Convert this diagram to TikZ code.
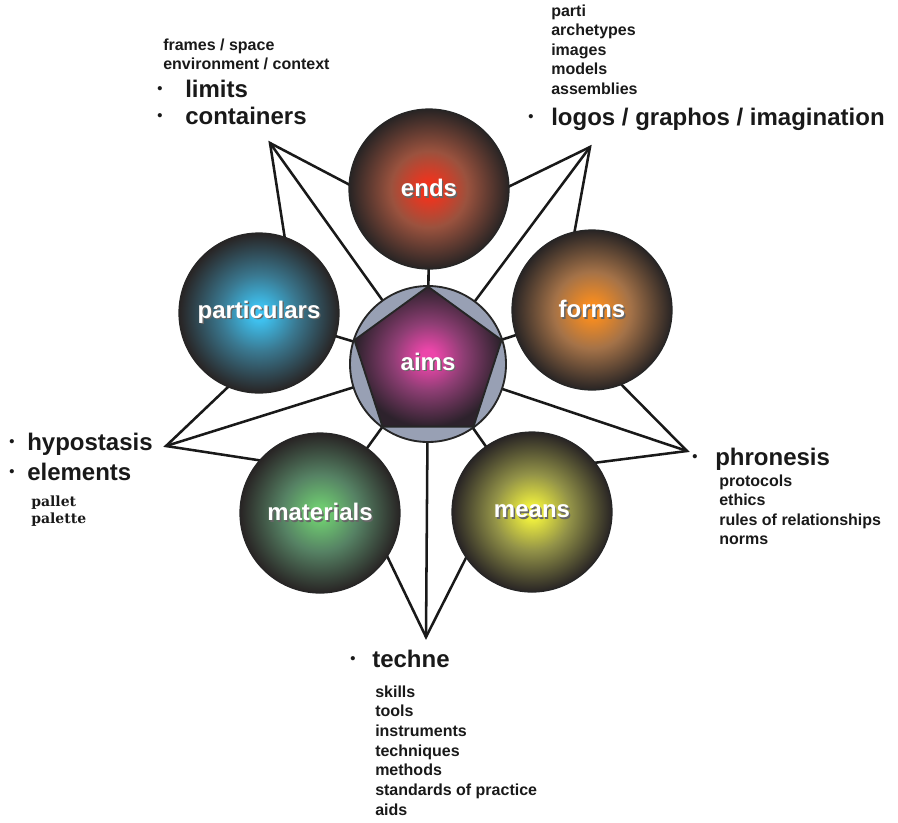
\documentclass[tikz,border=0pt]{standalone}
\usepackage{fontspec}
\setmainfont{Liberation Sans}
\newfontfamily\palfont{DejaVu Serif}
\usetikzlibrary{shapes.geometric,backgrounds}

% ball colours: centre glow, half-radius tone, rim
\definecolor{rimD}{RGB}{40,36,36}
\definecolor{endsC}{RGB}{238,52,30}
\definecolor{endsM}{RGB}{154,82,62}
\definecolor{formsC}{RGB}{246,140,32}
\definecolor{formsM}{RGB}{164,114,72}
\definecolor{partC}{RGB}{62,192,238}
\definecolor{partM}{RGB}{58,120,144}
\definecolor{matC}{RGB}{110,200,112}
\definecolor{matM}{RGB}{86,130,100}
\definecolor{meansC}{RGB}{236,236,62}
\definecolor{meansM}{RGB}{146,146,72}
\definecolor{aimsC}{RGB}{236,70,170}
\definecolor{aimsM}{RGB}{142,62,116}
\definecolor{aimsD}{RGB}{45,34,44}
\definecolor{ringgray}{RGB}{152,160,180}

% radius of a shaded circle corresponds to 25bp
\pgfdeclareradialshading{endsball}{\pgfpointorigin}{color(0bp)=(endsC); color(2.5bp)=(endsC); color(12bp)=(endsM); color(25bp)=(rimD); color(100bp)=(rimD)}
\pgfdeclareradialshading{formsball}{\pgfpointorigin}{color(0bp)=(formsC); color(2.5bp)=(formsC); color(12bp)=(formsM); color(25bp)=(rimD); color(100bp)=(rimD)}
\pgfdeclareradialshading{partball}{\pgfpointorigin}{color(0bp)=(partC); color(2.5bp)=(partC); color(12bp)=(partM); color(25bp)=(rimD); color(100bp)=(rimD)}
\pgfdeclareradialshading{matball}{\pgfpointorigin}{color(0bp)=(matC); color(2.5bp)=(matC); color(12bp)=(matM); color(25bp)=(rimD); color(100bp)=(rimD)}
\pgfdeclareradialshading{meansball}{\pgfpointorigin}{color(0bp)=(meansC); color(2.5bp)=(meansC); color(12bp)=(meansM); color(25bp)=(rimD); color(100bp)=(rimD)}
\pgfdeclareradialshading{aimsglow}{\pgfpointorigin}{color(0bp)=(aimsC); color(2.5bp)=(aimsC); color(12bp)=(aimsM); color(25bp)=(aimsD); color(100bp)=(aimsD)}

% white label with a soft grey drop shadow
\newcommand\embossed[1]{\leavevmode\rlap{\hspace{1.1pt}\raisebox{-1.1pt}{\textcolor{black!60}{#1}}}\textcolor{white}{#1}}
% small bullet set in a box of given width, followed by the item
\newcommand\bul[2]{\makebox[#1][l]{\raisebox{2.8pt}{\fontsize{11}{11}\selectfont\textbullet}}#2}

\begin{document}
\begin{tikzpicture}[x=0.75pt,y=-0.75pt,
  wire/.style={line width=1.9pt, draw=black!90, line join=miter},
  ball/.style={circle, minimum size=120pt, inner sep=0pt, draw=black!85, line width=0.9pt, shade,
    font=\fontsize{18}{20}\selectfont\bfseries},
  small/.style={anchor=base west, inner sep=0pt, font=\fontsize{12}{14}\selectfont\bfseries, text=black!90},
  big/.style={anchor=base west, inner sep=0pt, font=\fontsize{18}{20}\selectfont\bfseries, text=black!90},
  serif/.style={anchor=base west, inner sep=0pt, font=\fontsize{10.5}{12}\selectfont\palfont\bfseries, text=black!90}]

\useasboundingbox (0,0) rectangle (898,822);

% star tips (outer points) and inner corners of the star outline
\coordinate (tipTL) at (270,143);
\coordinate (tipTR) at (590,147);
\coordinate (tipL)  at (166,446);
\coordinate (tipR)  at (687,451);
\coordinate (tipB)  at (426,637);
\coordinate (inN)  at (428,226);
\coordinate (inE)  at (558.3,320.7);
\coordinate (inW)  at (297.7,320.7);
\coordinate (inSW) at (347.5,473.8);
\coordinate (inSE) at (508.5,473.8);

% centre: aims
\node[circle, minimum size=117pt, inner sep=0pt, fill=ringgray, draw=black!85, line width=1.4pt] (aimsring) at (428,364) {};
\node[regular polygon, regular polygon sides=5, minimum size=116pt, inner sep=0pt,
      draw=black!85, line width=1.4pt, shade, shading=aimsglow,
      font=\fontsize{18}{20}\selectfont\bfseries] (aims) at (428,364) {\raisebox{4pt}{\embossed{aims}}};

% the five balls
\node[ball, shading=endsball]  (ends)        at (429,189) {\embossed{ends}};
\node[ball, shading=formsball] (forms)       at (592,310) {\embossed{forms}};
\node[ball, shading=partball]  (particulars) at (259,313) {\embossed{particulars}};
\node[ball, shading=matball]   (materials)   at (320,513) {\embossed{materials}};
\node[ball, shading=meansball] (means)       at (532,512) {\embossed{means}};

\begin{pgfonlayer}{background}
  % star outline
  \draw[wire] (tipTL) -- (inN) -- (tipTR) -- (inE) -- (tipR) -- (inSE) -- (tipB)
              -- (inSW) -- (tipL) -- (inW) -- cycle;
  % spokes from the star tips into the centre
  \foreach \t in {tipTL,tipTR,tipL,tipR,tipB}
    \draw[wire] (\t) -- (aims.center);
  % links from the centre to each ball
  \foreach \b in {ends,forms,particulars,materials,means}
    \draw[wire] (aims.center) -- (\b.center);
\end{pgfonlayer}

% top left: limits / containers
\node[small] (tl1) at (163,50) {frames / space};
\node[small] (tl2) at (163,69) {environment / context};
\node[big] (limits) at (157,97) {\bul{21pt}{limits}};
\node[big] (containers) at (157,124) {\bul{21pt}{containers}};

% top right: logos / graphos / imagination
\foreach \t [count=\i] in {{parti},{archetypes},{images},{models},{assemblies}}
  \node[small] (tr\i) at (551,{16+19.5*(\i-1)}) {\t};
\node[big] (logos) at (528,125) {\bul{17.25pt}{logos / graphos / imagination}};

% left: hypostasis / elements
\node[big] (hypostasis) at (9,450) {\bul{13.5pt}{hypostasis}};
\node[big] (elements) at (9,480) {\bul{13.5pt}{elements}};
\node[serif] (pallet) at (31,506) {pallet};
\node[serif] (palette) at (31,523) {palette};

% right: phronesis
\node[big] (phronesis) at (692,465) {\bul{17.25pt}{phronesis}};
\foreach \t [count=\i] in {{protocols},{ethics},{rules of relationships},{norms}}
  \node[small] (ph\i) at (719,{486+19.6*(\i-1)}) {\t};

% bottom: techne
\node[big] (techne) at (350,667) {\bul{16.5pt}{techne}};
\foreach \t [count=\i] in {{skills},{tools},{instruments},{techniques},{methods},{standards of practice},{aids}}
  \node[small] (te\i) at (375,{697+19.7*(\i-1)}) {\t};

\end{tikzpicture}
\end{document}
